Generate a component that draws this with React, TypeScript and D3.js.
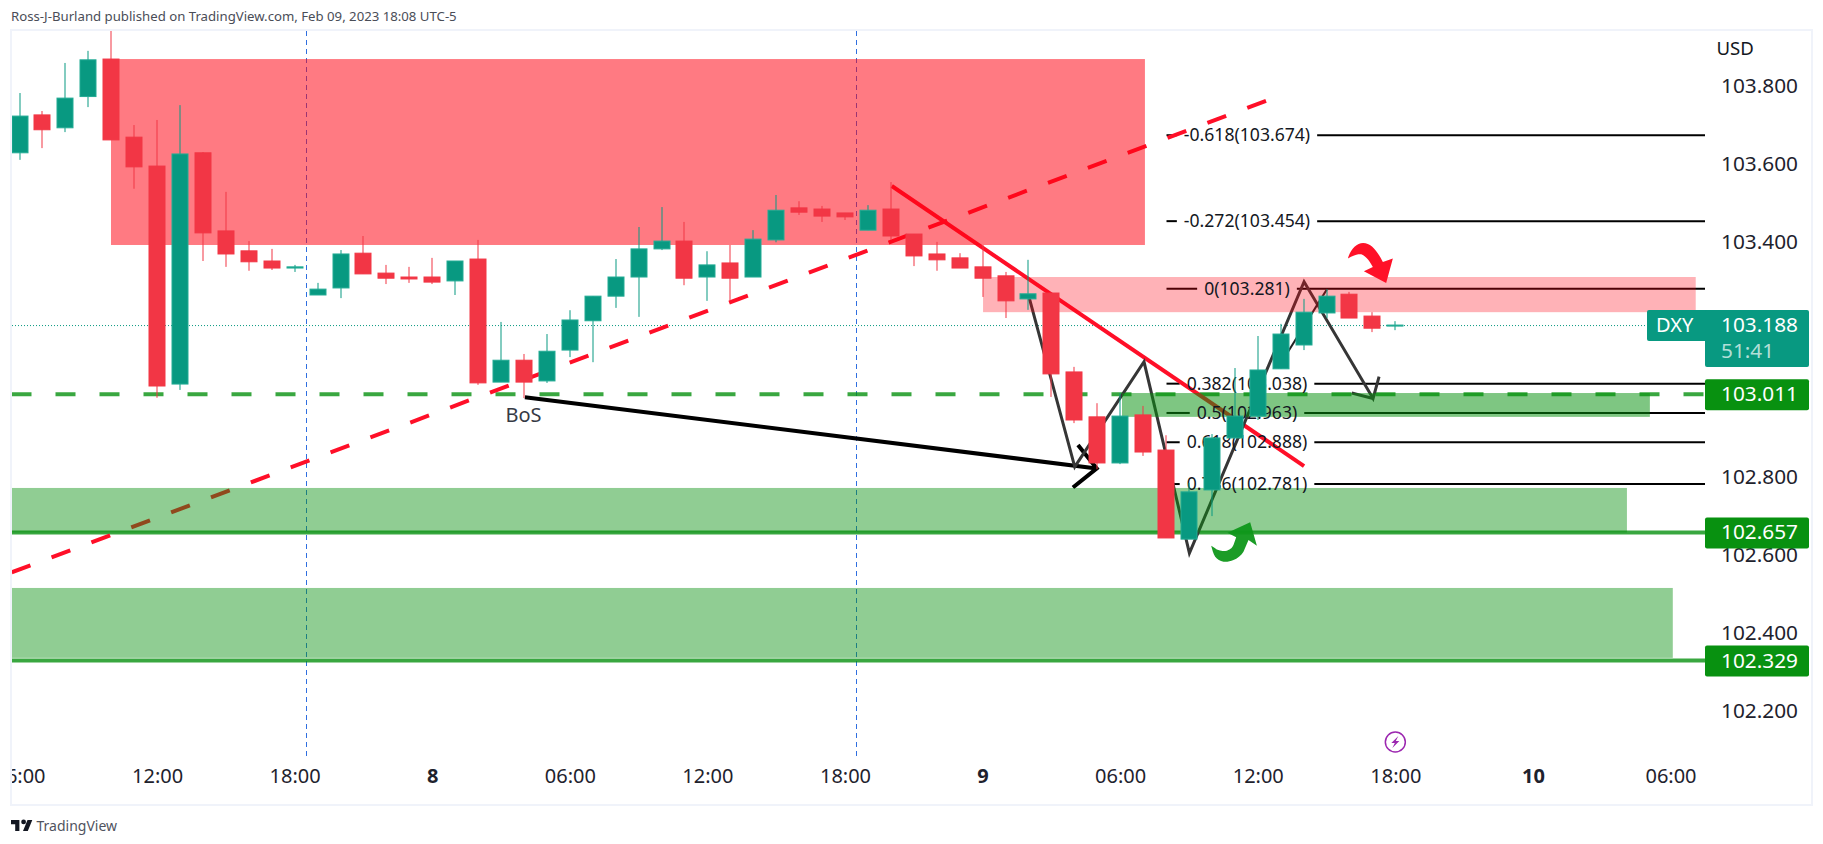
import React, { useRef, useEffect } from 'react';
import * as d3 from 'd3';

const opens = [
  103.629, 103.726, 103.693, 103.773, 103.869, 103.669, 103.595, 103.037, 103.629, 103.429,
  103.378, 103.352, 103.334, 103.265, 103.283, 103.372, 103.321, 103.311, 103.311, 103.301,
  103.357, 103.042, 103.098, 103.045, 103.124, 103.199, 103.262, 103.311, 103.383, 103.403,
  103.311, 103.347, 103.311, 103.406, 103.488, 103.485, 103.475, 103.431, 103.485, 103.421,
  103.37, 103.36, 103.337, 103.314, 103.255, 103.27, 103.068, 102.953, 102.835, 102.958,
  102.868, 102.64, 102.766, 102.899, 102.955, 103.076, 103.137, 103.219, 103.267, 103.211,
  103.186,
];
const closes = [
  103.723, 103.688, 103.769, 103.867, 103.662, 103.593, 103.032, 103.626, 103.424, 103.37,
  103.35, 103.334, 103.337, 103.28, 103.37, 103.319, 103.308, 103.306, 103.298, 103.352,
  103.04, 103.098, 103.042, 103.121, 103.201, 103.262, 103.311, 103.383, 103.403, 103.308,
  103.342, 103.308, 103.408, 103.482, 103.477, 103.467, 103.465, 103.482, 103.416, 103.365,
  103.355, 103.334, 103.308, 103.25, 103.268, 103.063, 102.945, 102.835, 102.955, 102.863,
  102.643, 102.761, 102.899, 102.955, 103.073, 103.165, 103.221, 103.262, 103.206, 103.18,
  103.188,
];
const highs = [
  103.782, 103.736, 103.859, 103.89, 103.97, 103.7, 103.713, 103.751, 103.631, 103.529,
  103.403, 103.383, 103.342, 103.296, 103.38, 103.416, 103.342, 103.337, 103.36, 103.352,
  103.406, 103.196, 103.114, 103.165, 103.226, 103.262, 103.357, 103.439, 103.49, 103.452,
  103.377, 103.393, 103.431, 103.521, 103.505, 103.493, 103.475, 103.495, 103.554, 103.421,
  103.401, 103.372, 103.393, 103.324, 103.355, 103.27, 103.081, 102.988, 103.014, 102.981,
  102.906, 102.784, 102.909, 103.078, 103.16, 103.191, 103.255, 103.28, 103.273, 103.221,
  103.198,
];
const lows = [
  103.611, 103.641, 103.682, 103.746, 103.662, 103.537, 103.002, 103.022, 103.352, 103.337,
  103.327, 103.329, 103.324, 103.265, 103.257, 103.319, 103.293, 103.296, 103.293, 103.265,
  103.035, 103.042, 103.001, 103.04, 103.106, 103.093, 103.232, 103.209, 103.38, 103.29,
  103.25, 103.25, 103.311, 103.4, 103.47, 103.452, 103.457, 103.431, 103.406, 103.339,
  103.327, 103.334, 103.26, 103.206, 103.227, 103.004, 102.937, 102.819, 102.832, 102.853,
  102.643, 102.64, 102.699, 102.899, 102.945, 103.076, 103.124, 103.206, 103.206, 103.17,
  103.175,
];

const priceTicks = [103.8, 103.6, 103.4, 102.8, 102.6, 102.4, 102.2];
const timeTicks = [0, 6, 12, 18, 24, 30, 36, 42, 48, 54, 60, 66, 72];
const timeLabels = ['06:00', '12:00', '18:00', '8', '06:00', '12:00', '18:00', '9', '06:00', '12:00', '18:00', '10', '06:00'];
const sessionBreaks = [12.5, 36.5];

const fibLevels = ['-0.618', '-0.272', '0', '0.382', '0.5', '0.618', '0.786'];
const fibPrices = [103.674, 103.454, 103.281, 103.038, 102.963, 102.888, 102.781];

const lastPrice = 103.188;
const supportDashed = 103.011;
const supportSolid = [102.657, 102.329];

// [from bar, to bar, top price, bottom price]
const redZones = [
  [3.99, 49.08, 103.869, 103.393, 0.52],
  [42.02, 73.1, 103.311, 103.221, 0.3],
];
const greenZones = [
  [48.08, 71.1, 103.014, 102.953, 0.52],
  [-2, 70.1, 102.771, 102.657, 0.45],
  [-2, 72.1, 102.515, 102.336, 0.45],
];

const zigzag = [[44, 103.265], [46.02, 102.825], [49.04, 103.094], [51.02, 102.604], [56.02, 103.299], [59.03, 103.0], [59.29, 103.056]];
const zigzagHook = [[58.1, 103.014], [59.03, 103.0]];
const thinLeg = [[54.88, 103.078], [57.02, 103.28]];
const bosLine = [[22.04, 103.003], [46.98, 102.821]];
const bosHead = [[46.16, 102.881], [46.98, 102.821], [45.94, 102.772]];
const redTrend = [[38.04, 103.544], [56.02, 102.827]];
const redDashed = [[-0.34, 102.555], [54.36, 103.762]];

const redArrowAt = [59.6, 103.296];
const greenArrowAt = [53.67, 102.683];
const flashAt = 60;

const FONT = '"Noto Sans", sans-serif';
const UP = '#089981';
const DOWN = '#f23645';
const GREEN = '#089110';
const RED = '#ff0f28';

export default function App() {
  const ref = useRef<SVGSVGElement>(null);

  useEffect(() => {
    const svg = d3.select(ref.current);
    svg.selectAll('*').remove();

    const pane = { left: 12, top: 31, right: 1705, bottom: 756 };
    const x = d3.scaleLinear().domain([0, 72]).range([19.5, 1670.5]);
    const y = d3.scaleLinear().domain([102.2, 103.8]).range([711, 86]);
    const pt = d3.line<number[]>().x(d => x(d[0])).y(d => y(d[1]));

    svg.append('rect').attr('width', 1823).attr('height', 844).attr('fill', '#fff');

    const defs = svg.append('defs');
    defs.append('clipPath').attr('id', 'pane').append('rect')
      .attr('x', pane.left).attr('y', pane.top)
      .attr('width', pane.right - pane.left).attr('height', pane.bottom - pane.top);
    defs.append('clipPath').attr('id', 'axisclip').append('rect')
      .attr('x', pane.left).attr('y', 756).attr('width', 1790).attr('height', 48);

    // frame
    svg.append('rect')
      .attr('x', 11).attr('y', 30).attr('width', 1801).attr('height', 775)
      .attr('fill', 'none').attr('stroke', '#f0f3fa').attr('stroke-width', 2);

    // title
    svg.append('text')
      .attr('x', 11).attr('y', 21).attr('font-family', FONT).attr('font-size', 13.2)
      .attr('fill', '#4a4d57').text('Ross-J-Burland published on TradingView.com, Feb 09, 2023 18:08 UTC-5');

    const g = svg.append('g').attr('clip-path', 'url(#pane)');

    // session breaks
    g.selectAll('.brk').data(sessionBreaks).join('line')
      .attr('x1', d => Math.round(x(d)) + 0.5).attr('x2', d => Math.round(x(d)) + 0.5)
      .attr('y1', pane.top).attr('y2', pane.bottom)
      .attr('stroke', '#2f6fe0').attr('stroke-width', 1).attr('stroke-dasharray', '5 4');

    // last price
    g.append('line')
      .attr('x1', pane.left).attr('x2', 1647).attr('y1', y(lastPrice) + 0.5).attr('y2', y(lastPrice) + 0.5)
      .attr('stroke', UP).attr('stroke-dasharray', '1 2');

    // support levels
    g.append('line')
      .attr('x1', 11.5).attr('x2', pane.right).attr('y1', y(supportDashed)).attr('y2', y(supportDashed))
      .attr('stroke', GREEN).attr('stroke-opacity', 0.8).attr('stroke-width', 4).attr('stroke-dasharray', '20 24');
    g.selectAll('.sup').data(supportSolid).join('line')
      .attr('x1', pane.left).attr('x2', pane.right).attr('y1', d => y(d)).attr('y2', d => y(d))
      .attr('stroke', GREEN).attr('stroke-opacity', 0.8).attr('stroke-width', 4);

    // Fib labels are measured so the level line can break around them
    const fibCentre = 1247;
    const fibLabels = svg.append('g');
    const fibText = fibLabels.selectAll('text').data(fibLevels).join('text')
      .attr('x', fibCentre).attr('y', (_, i) => y(fibPrices[i]) + 6)
      .attr('text-anchor', 'middle').attr('font-family', FONT).attr('font-size', 17.6).attr('fill', '#131722')
      .text((d, i) => `${d}(${fibPrices[i].toFixed(3)})`);
    fibText.each(function (_, i) {
      const half = (this as SVGTextElement).getComputedTextLength() / 2 + 7;
      const py = y(fibPrices[i]);
      g.append('line').attr('x1', 1166.5).attr('x2', fibCentre - half).attr('y1', py).attr('y2', py)
        .attr('stroke', '#000').attr('stroke-width', 2);
      g.append('line').attr('x1', fibCentre + half).attr('x2', pane.right).attr('y1', py).attr('y2', py)
        .attr('stroke', '#000').attr('stroke-width', 2);
    });

    // drawings
    g.append('path').attr('d', pt(redDashed)).attr('fill', 'none').attr('stroke', RED)
      .attr('stroke-width', 4).attr('stroke-dasharray', '20 22.58');
    g.append('path').attr('d', pt(redTrend)).attr('fill', 'none').attr('stroke', RED).attr('stroke-width', 4);
    g.append('path').attr('d', pt(bosLine)).attr('fill', 'none').attr('stroke', '#000').attr('stroke-width', 4);
    g.append('path').attr('d', pt(bosHead)).attr('fill', 'none').attr('stroke', '#000').attr('stroke-width', 4);
    g.append('path').attr('d', pt(zigzag)).attr('fill', 'none').attr('stroke', '#363636').attr('stroke-width', 3);
    g.append('path').attr('d', pt(zigzagHook)).attr('fill', 'none').attr('stroke', '#363636').attr('stroke-width', 3);
    g.append('path').attr('d', pt(thinLeg)).attr('fill', 'none').attr('stroke', '#222').attr('stroke-width', 2);

    // zones
    const zone = (rows: number[][], color: string) =>
      rows.forEach(d => {
        g.append('rect')
          .attr('x', x(d[0])).attr('width', x(d[1]) - x(d[0]))
          .attr('y', y(d[2])).attr('height', y(d[3]) - y(d[2]))
          .attr('fill', color).attr('fill-opacity', d[4]);
      });
    zone(redZones, '#ff0010');
    zone(greenZones, GREEN);

    fibLabels.raise();

    // candles
    const candles = svg.append('g').attr('clip-path', 'url(#pane)')
      .selectAll('g').data(opens).join('g')
      .attr('transform', (_, i) => `translate(${Math.round(x(i))},0)`);
    candles.append('rect')
      .attr('x', -0.5).attr('width', 1)
      .attr('y', (_, i) => y(highs[i])).attr('height', (_, i) => y(lows[i]) - y(highs[i]))
      .attr('fill', (d, i) => (closes[i] >= d ? UP : DOWN));
    candles.append('rect')
      .attr('x', -8).attr('width', 16)
      .attr('y', (d, i) => y(Math.max(d, closes[i])))
      .attr('height', (d, i) => Math.max(1, Math.abs(y(d) - y(closes[i]))))
      .attr('fill', (d, i) => (closes[i] >= d ? UP : DOWN))
      .attr('stroke', (d, i) => (closes[i] >= d ? '#22ab94' : DOWN));

    // curved arrows
    svg.append('path')
      .attr('transform', `translate(${x(redArrowAt[0])},${y(redArrowAt[1])})`)
      .attr('fill', '#ff1128')
      .attr('d', 'M-38.3 -24.3C-36 -33-30 -40-23 -40C-15 -40-9 -32-3.3 -21L6.7 -24.3L0 0L-22.3 -11.7L-13.3 -16C-17 -23-22 -28.7-26 -28.7C-30 -28.7-34 -27-38.3 -24.3Z');
    svg.append('path')
      .attr('transform', `translate(${x(greenArrowAt[0])},${y(greenArrowAt[1])})`)
      .attr('fill', '#0f971a').attr('fill-opacity', 0.95)
      .attr('d', 'M-39 23.3C-36 25-34 27-31.7 27.7C-28 29-26 29-23.3 28.3C-19 27-18 25-16.7 22.7L-14 15L-22.7 10.3L0 0L6.7 23.3L-1.7 17.7L-6.7 29.3C-9 33-13 36-16.7 37.7C-20 39-24 40-26.7 39.3C-30 38.5-33 37-35 34.3C-37 31-38 27-39 23.3Z');

    // BoS
    svg.append('text').attr('x', 523.5).attr('y', 421.5).attr('text-anchor', 'middle')
      .attr('font-family', FONT).attr('font-size', 20).attr('fill', '#363a45').text('BoS');

    // price axis
    const yAxis = svg.append('g').attr('transform', 'translate(1721,0)')
      .call(d3.axisRight(y).tickValues(priceTicks).tickSize(0).tickPadding(0).tickFormat(d3.format('.3f')));
    yAxis.select('.domain').remove();
    yAxis.selectAll('text').attr('font-family', FONT).attr('font-size', 20.8).attr('fill', '#1e222d');

    svg.append('text').attr('x', 1716.5).attr('y', 55).attr('font-family', FONT).attr('font-size', 18.6)
      .attr('fill', '#131722').text('USD');

    // time axis
    const xAxis = svg.append('g').attr('clip-path', 'url(#axisclip)').append('g')
      .attr('transform', 'translate(0,756)')
      .call(d3.axisBottom(x).tickValues(timeTicks).tickSize(0).tickPadding(13).tickFormat((_, i) => timeLabels[i]));
    xAxis.select('.domain').remove();
    xAxis.selectAll('text')
      .attr('font-family', FONT).attr('font-size', 20).attr('fill', '#1e222d')
      .attr('font-weight', (_, i) => (timeLabels[i].includes(':') ? 400 : 700));

    // price labels
    const box = (bx: number, by: number, w: number, h: number, color: string) =>
      svg.append('rect').attr('x', bx).attr('y', by).attr('width', w).attr('height', h).attr('rx', 2).attr('fill', color);
    const label = (lx: number, ly: number, text: string, opacity = 1, size = 20.8) =>
      svg.append('text').attr('x', lx).attr('y', ly).attr('font-family', FONT).attr('font-size', size)
        .attr('fill', '#fff').attr('fill-opacity', opacity).text(text);

    box(1647, y(lastPrice) - 15, 70, 31, UP);
    box(1705, y(lastPrice) - 15, 104, 57, UP);
    label(1656, y(lastPrice) + 7, 'DXY', 1, 20);
    label(1721, y(lastPrice) + 7, lastPrice.toFixed(3));
    label(1721, y(lastPrice) + 33, '51:41', 0.7);

    [supportDashed, ...supportSolid].forEach(p => {
      box(1705, y(p) - 15, 104, 31, GREEN);
      label(1721, y(p) + 7, p.toFixed(3));
    });

    // flash icon
    const flash = svg.append('g').attr('transform', `translate(${x(flashAt)},742)`);
    flash.append('circle').attr('r', 10).attr('fill', 'none').attr('stroke', '#9c27b0').attr('stroke-width', 1.5);
    flash.append('path').attr('d', 'M3 -6L-4 1L-0.5 1L-3 6L4 -1L0.5 -1Z').attr('fill', '#9c27b0');

    // TradingView mark
    svg.append('path').attr('transform', 'translate(11,816.5) scale(0.6)').attr('fill', '#131722')
      .attr('d', 'M14 6H0v7h7v11h7V6ZM28 24h-8l7.5-18h8L28 24ZM21 13a4 4 0 1 0 0-8a4 4 0 0 0 0 8Z');
    svg.append('text').attr('x', 36.5).attr('y', 831).attr('font-family', FONT).attr('font-size', 14)
      .attr('fill', '#50535e').text('TradingView');
  }, []);

  return (
    <svg
      ref={ref}
      width={1823}
      height={844}
      style={{ position: 'absolute', left: 0, top: 0, display: 'block' }}
    />
  );
}
